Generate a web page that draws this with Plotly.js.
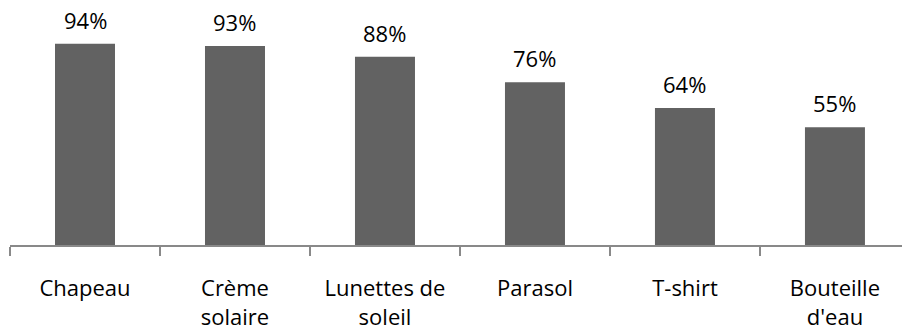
<!DOCTYPE html>
<html>
<head>
<meta charset="utf-8">
<script src="https://cdn.plot.ly/plotly-3.0.1.min.js"></script>
<style>html,body{margin:0;padding:0;background:#fff;}#chart{width:902px;height:332px;}</style>
</head>
<body>
<div id="chart"></div>
<script>
const categories = ["Chapeau", "Crème<br>solaire", "Lunettes de<br>soleil", "Parasol", "T-shirt", "Bouteille<br>d'eau"];
const values = [94, 93, 88, 76, 64, 55];
const valueLabels = values.map(v => v + "%");

const FONT = "'Open Sans', Lato, sans-serif";

const trace = {
  type: "bar",
  x: categories,
  y: values,
  marker: {color: "#626262", line: {width: 0}},
  width: 0.4,
  hoverinfo: "none"
};

const annotations = categories.map((c, i) => ({
  x: c,
  y: values[i],
  xref: "x",
  yref: "y",
  text: valueLabels[i],
  showarrow: false,
  yanchor: "bottom",
  yshift: 7,
  font: {family: FONT, size: 22, color: "#000"}
}));

const layout = {
  width: 902,
  height: 332,
  margin: {l: 10, r: 0, t: 31, b: 87},
  paper_bgcolor: "#fff",
  plot_bgcolor: "#fff",
  showlegend: false,
  font: {family: FONT, size: 22, color: "#000"},
  annotations: annotations,
  xaxis: {
    type: "category",
    range: [-0.5, 5.447],
    showline: true,
    linecolor: "#898989",
    linewidth: 2,
    ticks: "outside",
    tickson: "boundaries",
    ticklen: 9,
    tickcolor: "#898989",
    tickwidth: 1.5,
    showgrid: false,
    zeroline: false,
    ticklabelstandoff: 23,
    tickfont: {family: FONT, size: 22, color: "#000"}
  },
  yaxis: {
    range: [0, 100],
    visible: false,
    showgrid: false,
    zeroline: false
  },
  bargap: 0.6
};

Plotly.newPlot("chart", [trace], layout, {displayModeBar: false, staticPlot: true});
</script>
</body>
</html>
